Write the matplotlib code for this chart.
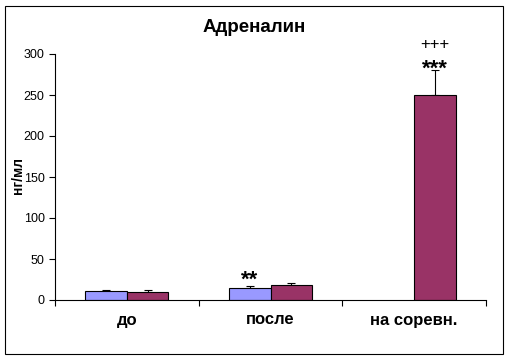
import matplotlib
matplotlib.use("Agg")
import matplotlib.pyplot as plt
from matplotlib.patches import Rectangle
import numpy as np

plt.rcParams['font.family'] = ['Liberation Sans', 'DejaVu Sans']

categories = ['до', 'после', 'на соревн.']
series_a = [11, 15, 0]
series_a_err = [1, 2.5, 0]
series_b = [10, 18.3, 250]
series_b_err = [2.5, 2.4, 30.5]
marks = [(1, 'a', '**', 24), (2, 'b', '***', 281.5), (2, 'b', '+++', 312)]

color_a = '#9999FF'
color_b = '#993366'

fig = plt.figure(figsize=(5.09, 3.6), dpi=100)
ax = fig.add_axes([55 / 509, 60 / 360, 431 / 509, 246 / 360])

x = np.arange(len(categories))
w = 0.29
ekw = dict(fmt='none', ecolor='black', elinewidth=0.8, capsize=3, capthick=0.8)

for xs, vals, errs, col in [(x - w / 2, series_a, series_a_err, color_a),
                            (x + w / 2, series_b, series_b_err, color_b)]:
    keep = [i for i, v in enumerate(vals) if v > 0]
    xk = xs[keep]
    vk = np.array(vals)[keep]
    ek = np.array(errs)[keep]
    ax.bar(xk, vk, w, color=col, edgecolor='black', linewidth=0.8, zorder=2)
    ax.errorbar(xk, vk, yerr=[np.zeros(len(ek)), ek], zorder=1, **ekw)

for i, s, txt, yv in marks:
    xc = x[i] - w / 2 if s == 'a' else x[i] + w / 2
    if '*' in txt:
        ax.text(xc, yv, txt, ha='center', va='center', fontsize=16, fontweight='bold', clip_on=False)
    else:
        ax.text(xc, yv, txt, ha='center', va='center', fontsize=12, clip_on=False)

ax.set_xlim(-0.5, 2.5)
ax.set_ylim(0, 300)
ax.set_yticks(range(0, 301, 50))
ax.set_xticks(x)
ax.set_xticklabels(categories, fontsize=12, fontweight='bold')
ax.set_xticks([-0.5, 0.5, 1.5, 2.5], minor=True)
ax.tick_params(axis='x', which='major', length=0, pad=9)
ax.tick_params(axis='x', which='minor', length=4, direction='out', width=0.8)
ax.tick_params(axis='y', length=4, direction='out', labelsize=9, width=0.8)
ax.spines['top'].set_visible(False)
ax.spines['right'].set_visible(False)
ax.spines['left'].set_linewidth(0.8)
ax.spines['bottom'].set_linewidth(0.8)
fig.text(18 / 509, 1 - 176 / 360, 'нг/мл', rotation=90, ha='center', va='center',
         fontsize=10, fontweight='bold')
fig.text(254 / 509, 1 - 28 / 360, 'Адреналин', ha='center', va='center', fontsize=13.5, fontweight='bold')

fig.patches.append(Rectangle((5 / 509, 6 / 360), 498 / 509, 348 / 360, transform=fig.transFigure,
                             fill=False, edgecolor='black', linewidth=0.8))

fig.savefig('out.png', dpi=100)
